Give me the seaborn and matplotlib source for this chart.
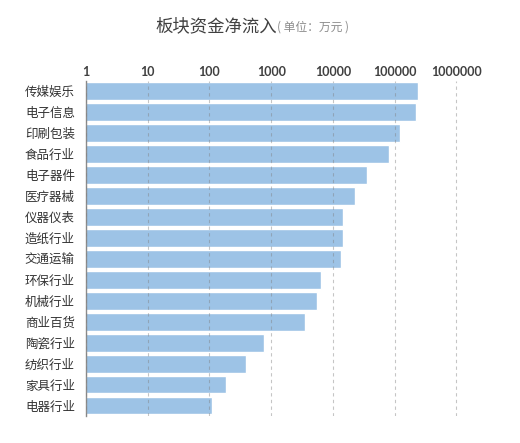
import matplotlib
matplotlib.use("Agg")
import matplotlib.pyplot as plt
import seaborn as sns
import pandas as pd
from matplotlib.ticker import FixedLocator, FixedFormatter, NullLocator

categories = ["传媒娱乐", "电子信息", "印刷包装", "食品行业", "电子器件", "医疗器械",
              "仪器仪表", "造纸行业", "交通运输", "环保行业", "机械行业", "商业百货",
              "陶瓷行业", "纺织行业", "家具行业", "电器行业"]
values = [235000, 218000, 120000, 80000, 35500, 23000,
          14400, 14400, 13300, 6300, 5500, 3560,
          760, 385, 185, 111]
tick_values = [1, 10, 100, 1000, 10000, 100000, 1000000]
tick_labels = ["1", "10", "100", "1000", "10000", "100000", "1000000"]
title_main = "板块资金净流入"
title_unit = "( 单位：万元 )"

sns.set_theme(style="white")
plt.rcParams['font.family'] = ['Noto Sans CJK SC', 'DejaVu Sans']

df = pd.DataFrame({"category": categories, "value": values})

W, H = 520, 443
fig = plt.figure(figsize=(W / 100, H / 100), dpi=100)
left, right, top, bottom = 86, 475, 80.7, 416
ax = fig.add_axes([left / W, 1 - bottom / H, (right - left) / W, (bottom - top) / H])

sns.barplot(data=df, x="value", y="category", orient="h", color="#9DC3E6",
            saturation=1, width=0.85, ax=ax)
ax.set_xscale("log")
ax.set_xlim(1, 10 ** 6.3)
ax.set_ylim(len(categories) - 0.5, -0.5)

ax.xaxis.tick_top()
ax.xaxis.set_major_locator(FixedLocator(tick_values))
ax.xaxis.set_major_formatter(FixedFormatter(tick_labels))
ax.xaxis.set_minor_locator(NullLocator())
ax.tick_params(axis="x", length=0, pad=2, labelsize=9, labelcolor="#404040")
for lab in ax.get_xticklabels():
    lab.set_fontfamily(["Lato", "DejaVu Sans"])
    lab.set_fontweight("bold")
ax.tick_params(axis="y", length=0, pad=8, labelsize=9, labelcolor="#333333")

ax.set_xlabel("")
ax.set_ylabel("")
for s in ["top", "right", "bottom"]:
    ax.spines[s].set_visible(False)
ax.spines["left"].set_color("#8C8C8C")
ax.spines["left"].set_linewidth(1.0)

ax.set_axisbelow(False)
ax.grid(axis="x", which="major", color="#808080", alpha=0.45,
        linestyle=(0, (3, 3)), linewidth=0.8)
ax.grid(axis="y", visible=False)

fig.text(155 / W, 1 - 26 / H, title_main, fontsize=12.5, color="#404040",
         ha="left", va="center")
fig.text(277 / W, 1 - 27 / H, title_unit, fontsize=8.5, color="#8C8C8C",
         ha="left", va="center")

fig.savefig("out.png", dpi=100)
